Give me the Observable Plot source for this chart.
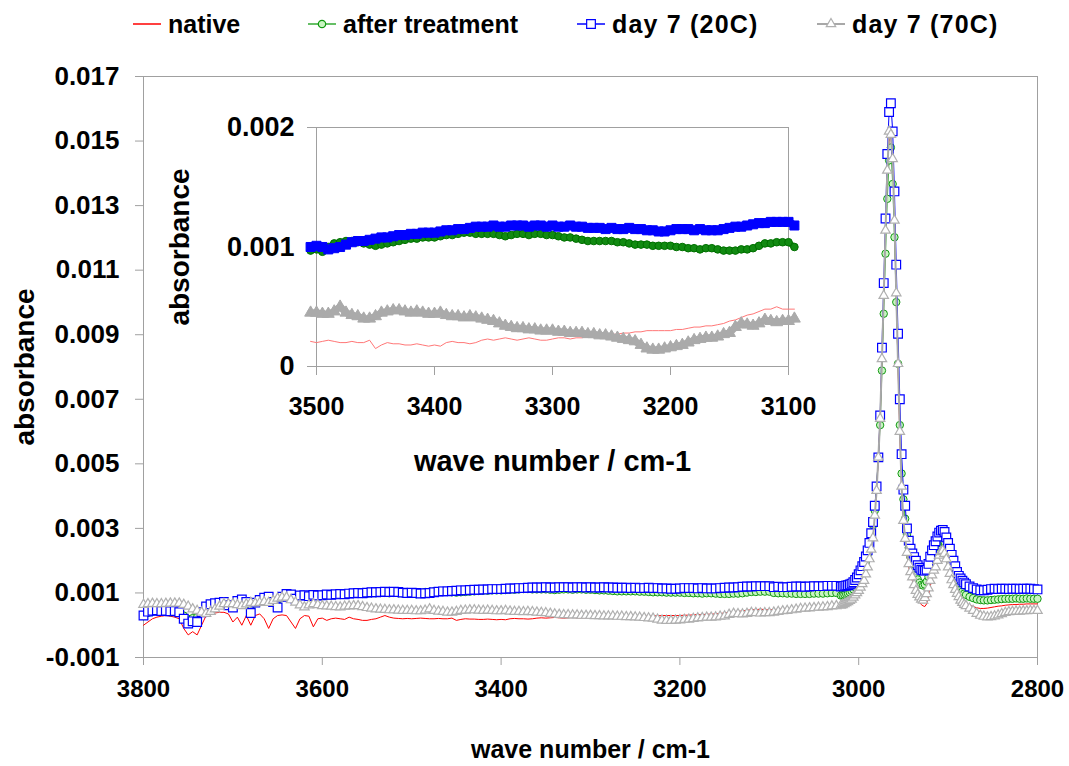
<!DOCTYPE html>
<html><head><meta charset="utf-8">
<script src="https://cdn.jsdelivr.net/npm/d3@7"></script>
<script src="https://cdn.jsdelivr.net/npm/@observablehq/plot@0.6"></script>
<style>
body{margin:0;background:#fff;font-family:"Liberation Sans",Arial,sans-serif;}
#wrap{position:relative;width:1069px;height:766px;overflow:hidden;}
#legend{position:relative;height:50px;}
.item{position:absolute;top:9px;display:flex;align-items:center;font-weight:bold;font-size:25px;line-height:30px;color:#000;white-space:nowrap;}
.item svg{margin-right:7px;}
.item.wide span{letter-spacing:1.2px;}
#inset{position:absolute;left:150px;top:100px;}
</style></head><body>
<div id="wrap"><div id="legend"></div><div id="main"></div><div id="inset"></div></div>
<script>
// ---------- data ----------
const seriesNames = ["native", "after treatment", "day 7 (20C)", "day 7 (70C)"];
// wavenumber sampling (cm-1): 3800-3025 every 5, 3020-2880 every 2, 2876-2800 every 4
const wave = [].concat(d3.range(3800, 3024, -5), d3.range(3020, 2879, -2), d3.range(2876, 2799, -4));
const xTicks = [3800, 3600, 3400, 3200, 3000, 2800];
const yTicks = [-0.001, 0.001, 0.003, 0.005, 0.007, 0.009, 0.011, 0.013, 0.015, 0.017];
const insetXTicks = [3500, 3400, 3300, 3200, 3100];
const insetYTicks = [0, 0.001, 0.002];

const native = [
 0.00000,0.00010,0.00020,0.00025,0.00028,0.00030,0.00028,0.00025,0.00020,-0.00010,
 -0.00030,-0.00020,-0.00030,0.00000,0.00030,0.00035,0.00038,0.00040,0.00040,0.00035,
 0.00010,0.00025,0.00000,0.00030,0.00000,0.00030,0.00035,0.00020,-0.00010,0.00020,
 0.00030,0.00032,0.00030,0.00010,-0.00010,0.00020,0.00030,0.00028,-0.00005,0.00020,
 0.00022,0.00015,0.00020,0.00022,0.00020,0.00018,0.00025,0.00020,0.00018,0.00015,
 0.00015,0.00018,0.00020,0.00025,0.00030,0.00025,0.00022,0.00021,0.00020,0.00021,
 0.00020,0.00021,0.00022,0.00021,0.00020,0.00020,0.00021,0.00020,0.00020,0.00022,
 0.00015,0.00018,0.00020,0.00019,0.00019,0.00018,0.00018,0.00019,0.00018,0.00017,
 0.00018,0.00017,0.00020,0.00021,0.00020,0.00020,0.00019,0.00020,0.00022,0.00023,
 0.00022,0.00023,0.00024,0.00023,0.00022,0.00023,0.00024,0.00023,0.00022,0.00022,
 0.00023,0.00024,0.00024,0.00023,0.00024,0.00024,0.00025,0.00025,0.00025,0.00026,
 0.00027,0.00027,0.00028,0.00028,0.00029,0.00029,0.00030,0.00030,0.00030,0.00030,
 0.00030,0.00031,0.00031,0.00032,0.00033,0.00033,0.00034,0.00034,0.00035,0.00036,
 0.00038,0.00039,0.00041,0.00043,0.00044,0.00046,0.00048,0.00048,0.00050,0.00048,
 0.00048,0.00048,0.00049,0.00050,0.00050,0.00051,0.00052,0.00053,0.00054,0.00055,
 0.00056,0.00057,0.00058,0.00060,0.00061,0.00063,
 0.00064,0.00066,0.00068,0.00071,0.00074,0.00078,0.00082,0.00087,0.00094,0.00101,
 0.00108,0.00118,0.00130,0.00142,0.00160,0.00182,0.00207,0.00238,0.00275,0.00340,
 0.00420,0.00520,0.00640,0.00820,0.01010,0.01210,0.01390,0.01500,0.01515,0.01430,
 0.01240,0.01015,0.00800,0.00590,0.00420,0.00315,0.00258,0.00215,0.00180,0.00155,
 0.00138,0.00115,0.00097,0.00083,0.00072,0.00064,0.00060,0.00058,0.00066,0.00090,
 0.00120,0.00145,0.00165,0.00180,0.00200,0.00218,0.00230,0.00235,0.00226,0.00208,
 0.00184,0.00163,0.00143,0.00127,0.00112,0.00100,0.00090,0.00080,0.00074,0.00070,
 0.00067,
 0.00062,0.00058,0.00054,0.00052,0.00052,0.00053,0.00055,0.00057,0.00059,0.00060,
 0.00062,0.00063,0.00064,0.00064,0.00065,0.00065,0.00066,0.00066,0.00066,0.00066
];
const afterTreatment = [
 0.00028,0.00038,0.00042,0.00043,0.00042,0.00041,0.00040,0.00041,0.00038,0.00030,
 0.00020,0.00022,0.00025,0.00042,0.00055,0.00062,0.00065,0.00067,0.00068,0.00062,
 0.00060,0.00072,0.00076,0.00070,0.00050,0.00068,0.00075,0.00082,0.00084,0.00075,
 0.00065,0.00085,0.00093,0.00092,0.00085,0.00090,0.00091,0.00089,0.00092,0.00092,
 0.00095,0.00094,0.00093,0.00095,0.00096,0.00095,0.00096,0.00097,0.00098,0.00097,
 0.00098,0.00099,0.00099,0.00100,0.00100,0.00099,0.00100,0.00099,0.00098,0.00097,
 0.00098,0.00096,0.00100,0.00103,0.00104,0.00105,0.00105,0.00104,0.00103,0.00102,
 0.00101,0.00102,0.00103,0.00104,0.00105,0.00106,0.00107,0.00107,0.00108,0.00108,
 0.00108,0.00109,0.00110,0.00110,0.00111,0.00112,0.00112,0.00111,0.00111,0.00111,
 0.00111,0.00110,0.00109,0.00110,0.00111,0.00111,0.00110,0.00111,0.00111,0.00110,
 0.00110,0.00109,0.00108,0.00108,0.00107,0.00106,0.00105,0.00105,0.00105,0.00105,
 0.00105,0.00104,0.00104,0.00103,0.00102,0.00102,0.00102,0.00101,0.00101,0.00101,
 0.00101,0.00100,0.00100,0.00099,0.00099,0.00098,0.00099,0.00099,0.00098,0.00097,
 0.00097,0.00097,0.00098,0.00098,0.00099,0.00101,0.00103,0.00103,0.00104,0.00104,
 0.00104,0.00100,0.00099,0.00099,0.00098,0.00098,0.00097,0.00097,0.00097,0.00097,
 0.00098,0.00098,0.00098,0.00099,0.00100,0.00100,
 0.00092,0.00093,0.00095,0.00097,0.00099,0.00102,0.00106,0.00111,0.00118,0.00126,
 0.00136,0.00148,0.00162,0.00178,0.00196,0.00218,0.00245,0.00275,0.00310,0.00355,
 0.00428,0.00520,0.00620,0.00789,0.00965,0.01151,0.01321,0.01440,0.01480,0.01367,
 0.01202,0.01001,0.00810,0.00620,0.00470,0.00390,0.00330,0.00280,0.00240,0.00210,
 0.00190,0.00170,0.00155,0.00142,0.00132,0.00125,0.00123,0.00126,0.00135,0.00150,
 0.00170,0.00190,0.00210,0.00228,0.00243,0.00255,0.00262,0.00264,0.00258,0.00243,
 0.00222,0.00200,0.00180,0.00160,0.00145,0.00130,0.00120,0.00110,0.00104,0.00098,
 0.00094,
 0.00088,0.00084,0.00080,0.00078,0.00077,0.00077,0.00078,0.00079,0.00080,0.00081,
 0.00082,0.00082,0.00082,0.00083,0.00082,0.00082,0.00083,0.00082,0.00082,0.00082
];
const day7_20C = [
 0.00030,0.00042,0.00045,0.00046,0.00044,0.00045,0.00043,0.00044,0.00040,0.00020,
 0.00005,0.00012,0.00010,0.00040,0.00058,0.00065,0.00068,0.00070,0.00072,0.00062,
 0.00055,0.00075,0.00080,0.00072,0.00038,0.00070,0.00078,0.00085,0.00088,0.00072,
 0.00055,0.00088,0.00097,0.00095,0.00082,0.00092,0.00093,0.00090,0.00094,0.00092,
 0.00093,0.00095,0.00094,0.00096,0.00097,0.00096,0.00098,0.00099,0.00100,0.00099,
 0.00101,0.00102,0.00102,0.00103,0.00104,0.00103,0.00104,0.00103,0.00101,0.00100,
 0.00101,0.00100,0.00098,0.00099,0.00100,0.00102,0.00104,0.00105,0.00105,0.00106,
 0.00107,0.00108,0.00108,0.00109,0.00110,0.00110,0.00111,0.00111,0.00112,0.00112,
 0.00112,0.00113,0.00114,0.00114,0.00115,0.00115,0.00116,0.00117,0.00117,0.00117,
 0.00118,0.00117,0.00117,0.00118,0.00118,0.00118,0.00117,0.00118,0.00118,0.00117,
 0.00118,0.00117,0.00117,0.00118,0.00117,0.00117,0.00116,0.00116,0.00116,0.00115,
 0.00116,0.00115,0.00115,0.00116,0.00115,0.00115,0.00114,0.00114,0.00113,0.00113,
 0.00114,0.00115,0.00115,0.00115,0.00114,0.00115,0.00114,0.00114,0.00114,0.00115,
 0.00116,0.00117,0.00117,0.00118,0.00119,0.00120,0.00120,0.00121,0.00121,0.00121,
 0.00121,0.00118,0.00119,0.00118,0.00118,0.00119,0.00120,0.00120,0.00119,0.00120,
 0.00121,0.00121,0.00121,0.00122,0.00122,0.00122,
 0.00120,0.00121,0.00122,0.00123,0.00124,0.00126,0.00129,0.00133,0.00140,0.00148,
 0.00158,0.00170,0.00183,0.00196,0.00213,0.00232,0.00255,0.00285,0.00320,0.00370,
 0.00430,0.00520,0.00650,0.00860,0.01060,0.01260,0.01460,0.01590,0.01617,0.01530,
 0.01344,0.01117,0.00903,0.00700,0.00530,0.00420,0.00370,0.00300,0.00262,0.00237,
 0.00222,0.00211,0.00200,0.00186,0.00178,0.00172,0.00170,0.00169,0.00172,0.00190,
 0.00212,0.00232,0.00248,0.00260,0.00275,0.00287,0.00293,0.00295,0.00289,0.00272,
 0.00255,0.00237,0.00218,0.00200,0.00183,0.00165,0.00153,0.00145,0.00138,0.00132,
 0.00127,
 0.00120,0.00115,0.00111,0.00108,0.00108,0.00110,0.00112,0.00113,0.00112,0.00113,
 0.00113,0.00112,0.00113,0.00113,0.00112,0.00113,0.00113,0.00113,0.00112,0.00111
];
const day7_70C = [
 0.00064,0.00066,0.00067,0.00066,0.00066,0.00067,0.00068,0.00068,0.00068,0.00064,
 0.00058,0.00050,0.00045,0.00040,0.00036,0.00042,0.00050,0.00058,0.00066,0.00066,
 0.00066,0.00063,0.00060,0.00065,0.00070,0.00068,0.00070,0.00072,0.00070,0.00076,
 0.00083,0.00086,0.00086,0.00078,0.00071,0.00062,0.00056,0.00062,0.00066,0.00063,
 0.00060,0.00059,0.00058,0.00057,0.00056,0.00058,0.00059,0.00060,0.00060,0.00057,
 0.00054,0.00052,0.00050,0.00049,0.00048,0.00047,0.00047,0.00046,0.00045,0.00045,
 0.00045,0.00044,0.00044,0.00046,0.00050,0.00045,0.00043,0.00042,0.00040,0.00040,
 0.00042,0.00045,0.00046,0.00047,0.00047,0.00046,0.00045,0.00046,0.00045,0.00044,
 0.00044,0.00045,0.00043,0.00042,0.00042,0.00041,0.00042,0.00041,0.00040,0.00039,
 0.00038,0.00036,0.00034,0.00033,0.00032,0.00032,0.00031,0.00031,0.00030,0.00030,
 0.00030,0.00029,0.00029,0.00028,0.00028,0.00028,0.00027,0.00027,0.00026,0.00026,
 0.00025,0.00024,0.00023,0.00022,0.00021,0.00018,0.00015,0.00014,0.00014,0.00015,
 0.00016,0.00017,0.00018,0.00020,0.00022,0.00023,0.00024,0.00024,0.00025,0.00027,
 0.00028,0.00033,0.00036,0.00035,0.00034,0.00036,0.00039,0.00038,0.00037,0.00038,
 0.00038,0.00040,0.00042,0.00044,0.00045,0.00047,0.00049,0.00051,0.00052,0.00053,
 0.00054,0.00055,0.00056,0.00057,0.00059,0.00060,
 0.00061,0.00063,0.00066,0.00069,0.00072,0.00076,0.00080,0.00086,0.00093,0.00100,
 0.00107,0.00117,0.00128,0.00138,0.00158,0.00180,0.00205,0.00235,0.00270,0.00340,
 0.00417,0.00520,0.00640,0.00825,0.01021,0.01223,0.01409,0.01530,0.01520,0.01445,
 0.01254,0.01029,0.00810,0.00600,0.00430,0.00324,0.00268,0.00225,0.00190,0.00165,
 0.00149,0.00125,0.00107,0.00095,0.00087,0.00080,0.00077,0.00085,0.00097,0.00115,
 0.00138,0.00155,0.00170,0.00180,0.00200,0.00216,0.00227,0.00231,0.00222,0.00205,
 0.00180,0.00160,0.00140,0.00125,0.00110,0.00098,0.00088,0.00077,0.00070,0.00064,
 0.00060,
 0.00052,0.00045,0.00036,0.00030,0.00027,0.00025,0.00026,0.00028,0.00031,0.00035,
 0.00039,0.00041,0.00042,0.00043,0.00043,0.00044,0.00044,0.00045,0.00045,0.00045
];
[native, afterTreatment, day7_20C, day7_70C].forEach((s, k) => {
  if (s.length !== wave.length) console.error("length mismatch", seriesNames[k], s.length, wave.length);
});

// ---------- styles ----------
const font = "Liberation Sans, Arial, Helvetica, sans-serif";
const sty = {
  native:  {line: "#ff0000", lineW: 1},
  after:   {line: "#33aa33", lineW: 1, stroke: "#119911", fill: "#c8f5c0", symbol: "circle", r: 3.7},
  d20:     {line: "#0000ff", lineW: 1, stroke: "#0000ff", fill: "#ffffff", symbol: "square", r: 4.9},
  d70:     {line: "#a8a8a8", lineW: 2, stroke: "#b0b0b0", fill: "#ffffff", symbol: "triangle", r: 3.5}
};

// ---------- legend ----------
const legendLeft = [133, 308, 577, 817];
const legendStyles = [sty.native, sty.after, sty.d20, sty.d70];
const legend = d3.select("#legend");
seriesNames.forEach((name, i) => {
  const s = legendStyles[i];
  const item = legend.append("div").attr("class", "item" + (i >= 2 ? " wide" : "")).style("left", legendLeft[i] + "px");
  const svg = item.append("svg").attr("width", 28).attr("height", 20);
  svg.append("line").attr("x1", 0).attr("x2", 28).attr("y1", 10).attr("y2", 10)
    .attr("stroke", s.line).attr("stroke-width", i === 3 ? 2 : 1.5);
  if (s.symbol) {
    const sym = {circle: d3.symbolCircle, square: d3.symbolSquare, triangle: d3.symbolTriangle}[s.symbol];
    svg.append("path").attr("transform", "translate(14,10)")
      .attr("d", d3.symbol(sym, Math.PI * s.r * s.r)())
      .attr("fill", s.fill).attr("stroke", s.stroke).attr("stroke-width", 1.2);
  }
  item.append("span").text(name);
});

// ---------- main chart ----------
const main = Plot.plot({
  width: 1069, height: 716,
  marginLeft: 143, marginRight: 32, marginTop: 26, marginBottom: 109,
  style: {fontFamily: font, fontWeight: "bold", color: "#000", background: "transparent", overflow: "visible"},
  x: {domain: [3800, 2800]},
  y: {domain: [-0.001, 0.017]},
  marks: [
    Plot.frame({stroke: "#a0a0a0"}),
    Plot.axisX({ticks: xTicks, tickFormat: d => String(d), tickSize: 8, tickPadding: 14, fontSize: 24, stroke: "#a0a0a0", fill: "#000", label: null}),
    Plot.axisY({ticks: yTicks, tickFormat: d => d.toFixed(3), tickSize: 8, tickPadding: 16, fontSize: 26, stroke: "#a0a0a0", fill: "#000", label: null}),
    Plot.text(["wave number / cm-1"], {text: d => d, frameAnchor: "bottom", textAnchor: "middle", dy: 100, fontSize: 25, fontWeight: "bold", fill: "#000"}),
    Plot.text(["absorbance"], {text: d => d, frameAnchor: "left", textAnchor: "middle", dx: -118, rotate: -90, fontSize: 28, fontWeight: "bold", fill: "#000"}),
    Plot.line(wave, {x: wave, y: native, stroke: sty.native.line, strokeWidth: sty.native.lineW}),
    Plot.line(wave, {x: wave, y: afterTreatment, stroke: sty.after.line, strokeWidth: sty.after.lineW}),
    Plot.dot(wave, {x: wave, y: afterTreatment, symbol: sty.after.symbol, r: sty.after.r, stroke: sty.after.stroke, fill: sty.after.fill, strokeWidth: 1}),
    Plot.line(wave, {x: wave, y: day7_20C, stroke: sty.d20.line, strokeWidth: sty.d20.lineW}),
    Plot.dot(wave, {x: wave, y: day7_20C, symbol: sty.d20.symbol, r: sty.d20.r, stroke: sty.d20.stroke, fill: sty.d20.fill, strokeWidth: 1.2}),
    Plot.line(wave, {x: wave, y: day7_70C, stroke: sty.d70.line, strokeWidth: sty.d70.lineW}),
    Plot.dot(wave, {x: wave, y: day7_70C, symbol: sty.d70.symbol, r: sty.d70.r, stroke: sty.d70.stroke, fill: sty.d70.fill, strokeWidth: 1.2})
  ]
});
document.getElementById("main").appendChild(main);

// ---------- inset (same data, 3500-3100 cm-1) ----------
const idx = d3.range(wave.length).filter(i => wave[i] <= 3505 && wave[i] >= 3095);
const inset = Plot.plot({
  width: 680, height: 380,
  marginLeft: 166, marginRight: 42, marginTop: 27, marginBottom: 114,
  style: {fontFamily: font, fontWeight: "bold", color: "#000", background: "transparent", overflow: "visible"},
  x: {domain: [3500, 3100]},
  y: {domain: [0, 0.002]},
  marks: [
    Plot.frame({stroke: "#a0a0a0", fill: "#ffffff"}),
    Plot.axisX({ticks: insetXTicks, tickFormat: d => String(d), tickSize: 9, tickPadding: 22, fontSize: 25, stroke: "#a0a0a0", fill: "#000", label: null}),
    Plot.axisY({ticks: insetYTicks, tickFormat: d => d === 0 ? "0" : d.toFixed(3), tickSize: 9, tickPadding: 13, fontSize: 27, stroke: "#a0a0a0", fill: "#000", label: null}),
    Plot.text(["wave number / cm-1"], {text: d => d, frameAnchor: "bottom", textAnchor: "middle", dy: 104, fontSize: 29, fontWeight: "bold", fill: "#000"}),
    Plot.text(["absorbance"], {text: d => d, frameAnchor: "left", textAnchor: "middle", dx: -136, rotate: -90, fontSize: 28, fontWeight: "bold", fill: "#000"}),
    Plot.line(idx, {x: i => wave[i], y: i => native[i], stroke: "#ff7777", strokeWidth: 1}),
    Plot.line(idx, {x: i => wave[i], y: i => afterTreatment[i], stroke: "#118a11", strokeWidth: 6}),
    Plot.dot(idx, {x: i => wave[i], y: i => afterTreatment[i], symbol: "circle", r: 3.8, stroke: "#006f00", fill: "#118a11", strokeWidth: 1}),
    Plot.line(idx, {x: i => wave[i], y: i => day7_20C[i], stroke: "#0000ff", strokeWidth: 8}),
    Plot.dot(idx, {x: i => wave[i], y: i => day7_20C[i], symbol: "square", r: 5.1, stroke: "#0000ff", fill: "#0000ff", strokeWidth: 1}),
    Plot.line(idx, {x: i => wave[i], y: i => day7_70C[i], stroke: "#aaaaaa", strokeWidth: 7}),
    Plot.dot(idx, {x: i => wave[i], y: i => day7_70C[i], symbol: "triangle", r: 4.4, stroke: "#aaaaaa", fill: "#aaaaaa", strokeWidth: 1})
  ]
});
document.getElementById("inset").appendChild(inset);
</script>
</body></html>
